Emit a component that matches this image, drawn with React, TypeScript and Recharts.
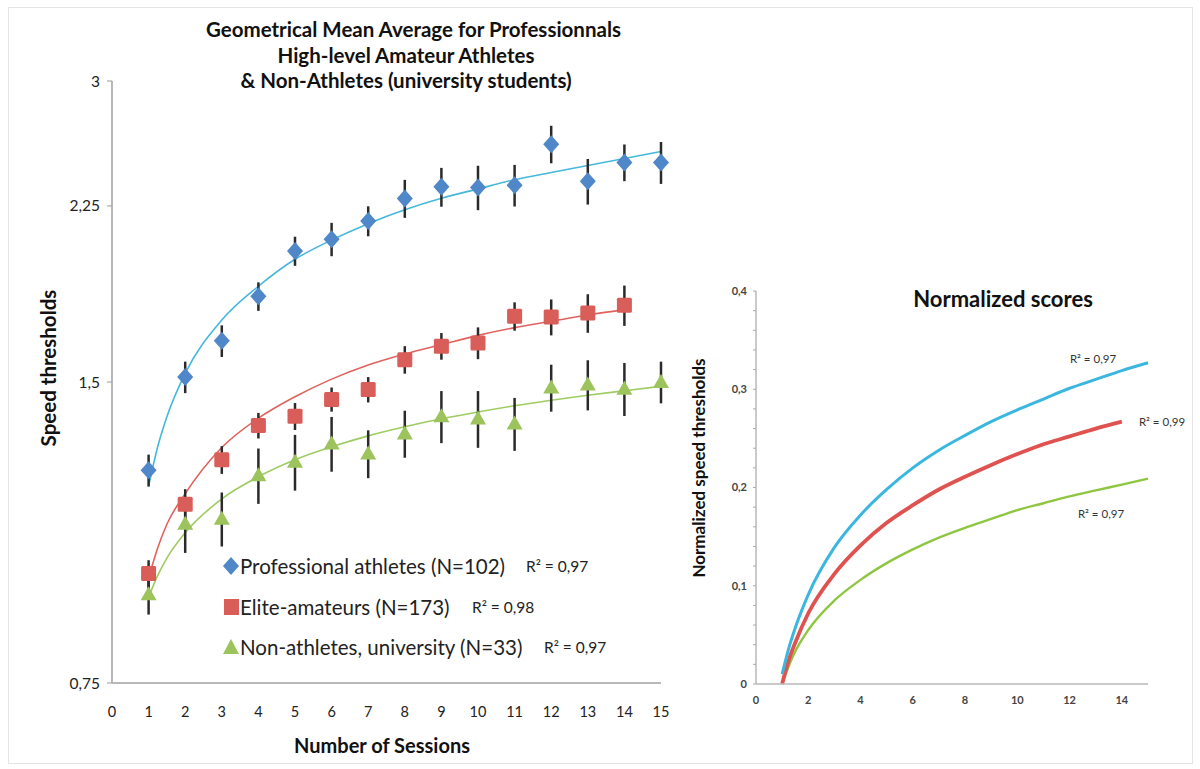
import { ComposedChart, ErrorBar, Legend, Line, Scatter, XAxis, YAxis } from 'recharts';

const FONT = 'Lato, "Open Sans", sans-serif';

// left panel: sessions and geometric means (speed thresholds)
const SESSIONS = [1, 2, 3, 4, 5, 6, 7, 8, 9, 10, 11, 12, 13, 14, 15];
const PRO_MEAN = [1.224, 1.517, 1.649, 1.827, 2.028, 2.084, 2.173, 2.289, 2.351, 2.348, 2.36, 2.594, 2.382, 2.487, 2.487];
const PRO_ERR = [0.045, 0.055, 0.06, 0.06, 0.068, 0.08, 0.075, 0.1, 0.105, 0.12, 0.113, 0.112, 0.125, 0.105, 0.12];
const ELITE_MEAN = [0.965, 1.132, 1.254, 1.357, 1.386, 1.441, 1.474, 1.579, 1.629, 1.641, 1.745, 1.742, 1.758, 1.79];
const ELITE_ERR = [0.03, 0.04, 0.04, 0.04, 0.043, 0.04, 0.043, 0.05, 0.05, 0.06, 0.057, 0.072, 0.078, 0.083];
const NON_MEAN = [0.92, 1.082, 1.095, 1.21, 1.248, 1.302, 1.272, 1.332, 1.386, 1.379, 1.363, 1.481, 1.491, 1.477, 1.5];
const NON_ERR = [0.042, 0.07, 0.068, 0.077, 0.08, 0.082, 0.07, 0.072, 0.083, 0.09, 0.083, 0.08, 0.086, 0.09, 0.072];

// trend lines (log fits)
const FIT_X = [1, 1.25, 1.5, 2, 3, 4, 5, 6, 7, 8, 9, 10, 11, 12, 13, 14, 15];
const PRO_FIT = [1.18, 1.293, 1.385, 1.53, 1.73, 1.87, 1.99, 2.08, 2.16, 2.23, 2.29, 2.34, 2.39, 2.43, 2.47, 2.51, 2.55];
const ELITE_FIT = [0.955, 1.024, 1.081, 1.16, 1.29, 1.38, 1.45, 1.51, 1.56, 1.6, 1.635, 1.67, 1.7, 1.725, 1.75, 1.772];
const NON_FIT = [0.914, 0.961, 1.0, 1.06, 1.146, 1.206, 1.254, 1.292, 1.325, 1.353, 1.378, 1.4, 1.42, 1.438, 1.455, 1.47, 1.485];

const LEFT_X_TICKS = [0, 1, 2, 3, 4, 5, 6, 7, 8, 9, 10, 11, 12, 13, 14, 15];
const LEFT_Y_TICKS = [0.75, 1.5, 2.25, 3];

// right panel: normalized scores
const NORM_PRO = [0.01, 0.036, 0.057, 0.091, 0.139, 0.172, 0.198, 0.22, 0.238, 0.253, 0.267, 0.279, 0.29, 0.301, 0.31, 0.319, 0.327];
const NORM_ELITE = [0, 0.024, 0.042, 0.072, 0.112, 0.141, 0.164, 0.182, 0.198, 0.211, 0.223, 0.234, 0.244, 0.252, 0.26, 0.267];
const NORM_NON = [0, 0.018, 0.033, 0.055, 0.085, 0.106, 0.123, 0.137, 0.149, 0.159, 0.168, 0.177, 0.184, 0.191, 0.197, 0.203, 0.209];

const RIGHT_X_TICKS = [0, 2, 4, 6, 8, 10, 12, 14];
const RIGHT_Y_TICKS = [0, 0.02, 0.04, 0.06, 0.08, 0.1, 0.12, 0.14, 0.16, 0.18, 0.2, 0.22, 0.24, 0.26, 0.28, 0.3, 0.32, 0.34, 0.36, 0.38, 0.4];

const SERIES = [
  { name: 'Professional athletes (N=102)', r2: 'R² = 0,97', color: '#4f87c8', r2x: 303, shape: 'diamond' },
  { name: 'Elite-amateurs (N=173)', r2: 'R² = 0,98', color: '#d95d58', r2x: 249, shape: 'square' },
  { name: 'Non-athletes, university (N=33)', r2: 'R² = 0,97', color: '#9dc45c', r2x: 321, shape: 'triangle' },
];

const points = (means: number[], errs: number[]) =>
  means.map((y, i) => ({ x: SESSIONS[i], y, err: errs[i] }));
const curve = (vals: number[]) => vals.map((y, i) => ({ x: FIT_X[i], y }));

const comma = (v: number) => String(v).replace('.', ',');

const Diamond = ({ cx, cy, fill }: any) => (
  <path d={`M${cx},${cy - 9}L${cx + 8},${cy}L${cx},${cy + 9}L${cx - 8},${cy}Z`} fill={fill} />
);
const Square = ({ cx, cy, fill }: any) => (
  <rect x={cx - 7.5} y={cy - 7.5} width={15} height={15} rx={1.5} fill={fill} />
);
const Triangle = ({ cx, cy, fill }: any) => (
  <path d={`M${cx},${cy - 8}L${cx + 8},${cy + 6}L${cx - 8},${cy + 6}Z`} fill={fill} />
);
const NoMark = () => null;

function LegendIcon({ shape, color }: { shape: string; color: string }) {
  return (
    <svg width={16} height={18} style={{ marginRight: 1 }}>
      {shape === 'diamond' && <Diamond cx={8} cy={9} fill={color} />}
      {shape === 'square' && <rect x={1} y={1} width={15} height={16} fill={color} />}
      {shape === 'triangle' && <path d="M8,1L16,16L0,16Z" fill={color} />}
    </svg>
  );
}

function SeriesLegend() {
  return (
    <div style={{ fontFamily: FONT, color: '#222', position: 'relative', width: 400 }}>
      {SERIES.map((s) => (
        <div key={s.name} style={{ display: 'flex', alignItems: 'center', height: 40.5, position: 'relative' }}>
          <LegendIcon shape={s.shape} color={s.color} />
          <span style={{ fontSize: 20.5 }}>{s.name}</span>
          <span style={{ fontSize: 15.5, position: 'absolute', left: s.r2x }}>{s.r2}</span>
        </div>
      ))}
    </div>
  );
}

const abs = (left: number, top: number, extra: object = {}) => ({
  position: 'absolute' as const,
  left,
  top,
  fontFamily: FONT,
  color: '#111',
  whiteSpace: 'nowrap' as const,
  ...extra,
});

const errBar = <ErrorBar dataKey="err" direction="y" width={0} stroke="#2a2a2a" strokeWidth={2.5} />;

export default function App() {
  const axisTick = { fontSize: 14.5, fill: '#222', fontFamily: FONT };
  const smallTick = { fontSize: 11, fill: '#444', fontFamily: FONT, fontWeight: 700 };
  const majorOnly = (v: number) =>
    Math.abs(v * 10 - Math.round(v * 10)) < 1e-6 ? comma(Math.round(v * 10) / 10) : '';

  return (
    <div style={{ position: 'relative', width: 1200, height: 769, background: '#fff' }}>
      <style>{'body{margin:0}'}</style>
      <div
        style={{
          position: 'absolute',
          left: 8,
          top: 7,
          width: 1183,
          height: 755,
          border: '1px solid #e4e4e4',
        }}
      />

      {/* left panel */}
      <div style={{ position: 'absolute', left: 0, top: 0 }}>
        <ComposedChart width={700} height={769} margin={{ top: 81, right: 39, bottom: 46, left: 52 }}>
          <XAxis
            type="number"
            dataKey="x"
            domain={[0, 15]}
            ticks={LEFT_X_TICKS}
            interval={0}
            height={40}
            tickLine={false}
            tickSize={0}
            tickMargin={24}
            axisLine={{ stroke: '#b8b8b8', strokeWidth: 2 }}
            tick={axisTick}
          />
          <YAxis
            type="number"
            dataKey="y"
            scale="log"
            domain={[0.75, 3]}
            ticks={LEFT_Y_TICKS}
            interval={0}
            width={60}
            tickSize={5}
            tickMargin={7}
            tickFormatter={comma}
            tickLine={{ stroke: '#999' }}
            axisLine={{ stroke: '#b8b8b8', strokeWidth: 2 }}
            tick={{ ...axisTick, fontSize: 15.5 }}
          />
          <Line data={curve(PRO_FIT)} dataKey="y" type="monotone" stroke="#45b8dc" strokeWidth={1.6} dot={false} isAnimationActive={false} />
          <Line data={curve(ELITE_FIT)} dataKey="y" type="monotone" stroke="#e0625e" strokeWidth={1.6} dot={false} isAnimationActive={false} />
          <Line data={curve(NON_FIT)} dataKey="y" type="monotone" stroke="#9fcc62" strokeWidth={1.6} dot={false} isAnimationActive={false} />
          {/* error bars first so the markers sit on top */}
          <Scatter data={points(PRO_MEAN, PRO_ERR)} dataKey="y" shape={NoMark} isAnimationActive={false}>{errBar}</Scatter>
          <Scatter data={points(ELITE_MEAN, ELITE_ERR)} dataKey="y" shape={NoMark} isAnimationActive={false}>{errBar}</Scatter>
          <Scatter data={points(NON_MEAN, NON_ERR)} dataKey="y" shape={NoMark} isAnimationActive={false}>{errBar}</Scatter>
          <Scatter data={points(PRO_MEAN, PRO_ERR)} dataKey="y" fill={SERIES[0].color} shape={Diamond} isAnimationActive={false} />
          <Scatter data={points(ELITE_MEAN, ELITE_ERR)} dataKey="y" fill={SERIES[1].color} shape={Square} isAnimationActive={false} />
          <Scatter data={points(NON_MEAN, NON_ERR)} dataKey="y" fill={SERIES[2].color} shape={Triangle} isAnimationActive={false} />
          <Legend
            layout="vertical"
            align="center"
            verticalAlign="middle"
            content={<SeriesLegend />}
            wrapperStyle={{ position: 'absolute', left: 223, top: 546, width: 'auto', height: 'auto' }}
          />
        </ComposedChart>
      </div>

      <div style={abs(206, 17, { width: 400, textAlign: 'center', fontSize: 20.5, fontWeight: 700, lineHeight: '25.5px' })}>
        Geometrical Mean Average for Professionnals
        <br />
        High-level Amateur Athletes
        <br />
        &amp; Non-Athletes (university students)
      </div>
      <div style={abs(48, 368, { transform: 'translate(-50%,-50%) rotate(-90deg)', fontSize: 20.5, fontWeight: 700 })}>
        Speed thresholds
      </div>
      <div style={abs(382, 745, { transform: 'translate(-50%,-50%)', fontSize: 20, fontWeight: 700 })}>
        Number of Sessions
      </div>

      {/* right panel */}
      <div style={{ position: 'absolute', left: 680, top: 270 }}>
        <ComposedChart width={520} height={460} margin={{ top: 21, right: 52, bottom: 16, left: 36 }}>
          <XAxis
            type="number"
            dataKey="x"
            domain={[0, 15]}
            ticks={RIGHT_X_TICKS}
            interval={0}
            height={30}
            tickLine={false}
            tickSize={0}
            tickMargin={12}
            axisLine={{ stroke: '#b8b8b8', strokeWidth: 1.5 }}
            tick={smallTick}
          />
          <YAxis
            type="number"
            dataKey="y"
            domain={[0, 0.4]}
            ticks={RIGHT_Y_TICKS}
            interval={0}
            width={40}
            tickSize={3}
            tickMargin={6}
            tickFormatter={majorOnly}
            tickLine={{ stroke: '#aaa' }}
            axisLine={{ stroke: '#b8b8b8', strokeWidth: 1.5 }}
            tick={smallTick}
          />
          <Line data={curve(NORM_NON)} dataKey="y" type="monotone" stroke="#8fc641" strokeWidth={2.4} dot={false} isAnimationActive={false} />
          <Line data={curve(NORM_ELITE)} dataKey="y" type="monotone" stroke="#e0524f" strokeWidth={3.8} dot={false} isAnimationActive={false} />
          <Line data={curve(NORM_PRO)} dataKey="y" type="monotone" stroke="#3bb7df" strokeWidth={3} dot={false} isAnimationActive={false} />
        </ComposedChart>
      </div>

      <div style={abs(1003, 298, { transform: 'translate(-50%,-50%)', fontSize: 22, fontWeight: 700 })}>
        Normalized scores
      </div>
      <div style={abs(698, 468, { transform: 'translate(-50%,-50%) rotate(-90deg)', fontSize: 17, fontWeight: 700 })}>
        Normalized speed thresholds
      </div>
      <div style={abs(1093, 358, { transform: 'translate(-50%,-50%)', fontSize: 11.5, color: '#333' })}>R² = 0,97</div>
      <div style={abs(1162, 421, { transform: 'translate(-50%,-50%)', fontSize: 11.5, color: '#333' })}>R² = 0,99</div>
      <div style={abs(1101, 513, { transform: 'translate(-50%,-50%)', fontSize: 11.5, color: '#333' })}>R² = 0,97</div>
    </div>
  );
}
